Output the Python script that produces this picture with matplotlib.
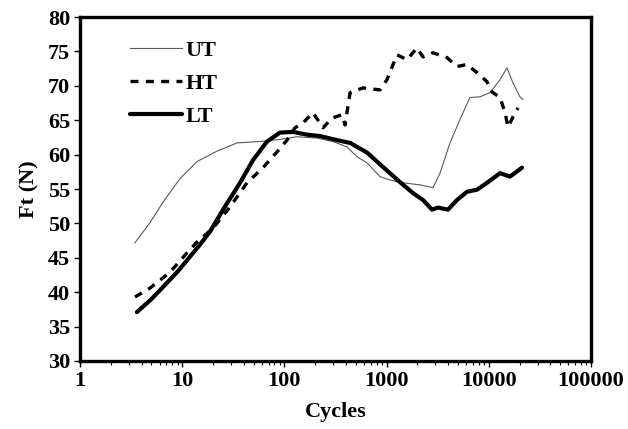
import matplotlib
matplotlib.use("Agg")
import matplotlib.pyplot as plt
from matplotlib.ticker import LogLocator, FixedLocator, NullFormatter

# ---- data ----
ut_x = [3.45, 4.84, 6.5, 9.5, 14, 21.9, 34.4, 57.7, 90.6, 133, 208, 299, 410, 513,
        643, 861, 1079, 1445, 2122, 2845, 3334, 4170, 5220, 6540, 8200, 10280,
        12880, 15070, 17260, 20180, 21600]
ut_y = [47.2, 50.1, 53.1, 56.5, 59.0, 60.5, 61.7, 61.9, 62.2, 62.6, 62.4, 61.9, 61.1,
        59.7, 58.8, 56.8, 56.3, 55.9, 55.6, 55.2, 57.3, 61.7, 65.1, 68.3, 68.4, 69.0,
        70.9, 72.6, 70.4, 68.4, 68.0]

ht_x = [3.45, 4.84, 7.6, 11.1, 14, 20, 29.4, 43, 61.8, 84.7, 106, 127, 152, 190, 239,
        292, 366, 392, 439, 588, 861, 1009, 1264, 1585, 1983, 2270, 2845, 3899, 4884,
        6120, 7670, 9600, 10740, 12880, 14420, 15420, 17260, 19310]
ht_y = [39.3, 40.6, 42.9, 45.7, 47.3, 49.3, 52.4, 55.9, 58.1, 60.4, 62.1, 63.9, 64.6,
        66.1, 63.9, 65.3, 65.8, 64.3, 69.0, 69.7, 69.4, 70.9, 74.5, 73.8, 75.5, 74.2,
        74.8, 74.1, 72.8, 73.1, 71.9, 70.6, 69.1, 68.3, 66.1, 64.0, 65.5, 66.8]

lt_x = [3.6, 5.0, 8.9, 14.9, 18.7, 25.1, 36.8, 49.3, 67.6, 90.6, 121, 166, 223, 327,
        439, 643, 922, 1352, 1813, 2270, 2782, 3183, 3988, 4884, 6120, 7670, 9600,
        12880, 16110, 21130]
lt_y = [37.1, 39.0, 42.9, 46.9, 48.8, 52.0, 55.9, 59.2, 61.9, 63.2, 63.3, 62.9, 62.7,
        62.1, 61.7, 60.3, 58.2, 56.0, 54.4, 53.4, 52.0, 52.3, 52.0, 53.4, 54.6, 54.9,
        55.9, 57.3, 56.8, 58.1]

y_ticks = [30, 35, 40, 45, 50, 55, 60, 65, 70, 75, 80]
x_ticks = [1, 10, 100, 1000, 10000, 100000]
x_tick_labels = ["1", "10", "100", "1000", "10000", "100000"]

# ---- figure ----
fig = plt.figure(figsize=(6.28, 4.29), dpi=100)
ax = fig.add_axes([80/628, 1 - 361/429, (591-80)/628, (361-17)/429])

ax.plot(ut_x, ut_y, color="0.35", lw=0.8, label="UT")
ax.plot(ht_x, ht_y, color="black", lw=2.4, dashes=(2.4, 2.2), label="HT")
ax.plot(lt_x, lt_y, color="black", lw=3.0, solid_capstyle="round",
        solid_joinstyle="round", label="LT")

ax.set_xscale("log")
ax.set_xlim(1, 100000)
ax.set_ylim(30, 80)
ax.xaxis.set_major_locator(FixedLocator(x_ticks))
ax.set_xticklabels(x_tick_labels)
ax.xaxis.set_minor_locator(LogLocator(base=10, subs=range(2, 10), numticks=20))
ax.xaxis.set_minor_formatter(NullFormatter())
ax.set_yticks(y_ticks)

font = dict(family="Liberation Serif", weight="bold", size=16)
for lab in ax.get_xticklabels() + ax.get_yticklabels():
    lab.set_fontfamily("Liberation Serif")
    lab.set_fontweight("bold")
    lab.set_fontsize(16)

ax.tick_params(axis="both", which="major", direction="out", length=4, width=1,
               pad=3, top=False, right=False)
ax.tick_params(axis="x", which="minor", direction="out", length=3, width=0.8)

for sp in ax.spines.values():
    sp.set_linewidth(2.4)

ax.set_xlabel("Cycles", fontdict=font, labelpad=8)
ax.set_ylabel("Ft (N)", fontdict=font, labelpad=6)

leg = ax.legend(loc="upper left", bbox_to_anchor=(0.08, 0.957), frameon=False,
                prop=dict(family="Liberation Serif", weight="bold", size=16),
                handlelength=2.35, handletextpad=0.15, labelspacing=0.55,
                borderaxespad=0)

fig.savefig("out.png", dpi=100)
